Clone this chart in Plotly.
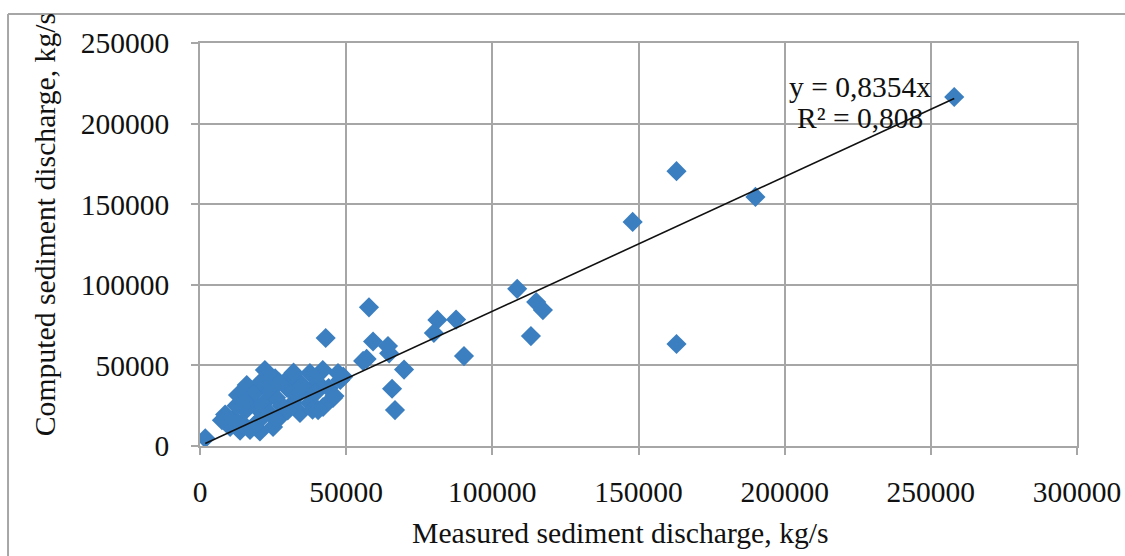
import plotly.graph_objects as go

# Measured (x) and computed (y) sediment discharge, kg/s
measured = [
    258000, 163000, 190000, 148000, 163000, 108500, 115000, 117300, 113200, 90300,
    87600, 81200, 80000, 69800, 66700, 65700, 64300, 64700, 59200, 57800,
    57000, 55800, 43000, 1800,
    22200, 25700, 16000, 13000, 8600, 7500, 10300, 13700, 17100, 20500,
    25000, 19500, 22900, 17100, 29800, 30800, 27400, 31800, 47200, 42000,
    37600, 33200, 40400, 45500, 42100, 37600, 34200, 36600, 48000,
    14500, 11500, 20000, 24000, 26000, 28000, 19000, 15500, 12500, 33000,
    35000, 39500, 44000, 38500, 30000, 23500, 27000, 46000, 49000, 21000,
    32000, 40400, 18500, 15000,
]
computed = [
    216500, 170500, 154500, 139000, 63300, 97500, 89300, 84300, 68200, 55800,
    78400, 78200, 70100, 47400, 22300, 35500, 62000, 57500, 64800, 86000,
    54000, 52800, 67000, 4800,
    47100, 42000, 37800, 31600, 19500, 16000, 11800, 9500, 10000, 9000,
    11800, 23600, 28500, 28500, 36000, 43000, 18000, 26700, 45300, 47100,
    45300, 41000, 39000, 29800, 24200, 26700, 20500, 34700, 41000,
    14000, 17000, 15500, 20000, 30000, 25000, 33500, 22000, 25000, 31000,
    37500, 33000, 36000, 22500, 22000, 35500, 39500, 31000, 43000, 40000,
    45500, 22300, 12500, 27000,
]
slope = 0.8354
equation_text = "y = 0,8354x"
r2_text = "R² = 0,808"
x_title = "Measured sediment discharge, kg/s"
y_title = "Computed sediment discharge, kg/s"

FONT = "Liberation Serif, Times New Roman, serif"
GRID = "#A6A6A6"
TXT = "#111111"

trend_x = [min(measured), max(measured)]
trend_y = [slope * v for v in trend_x]

fig = go.Figure()
fig.add_trace(go.Scatter(
    x=measured, y=computed, mode="markers",
    marker=dict(symbol="diamond", size=15.5, color="#3B7FC1", line=dict(width=0)),
    showlegend=False,
))
fig.add_trace(go.Scatter(
    x=trend_x, y=trend_y, mode="lines",
    line=dict(color="#111111", width=1.6), showlegend=False,
))

axis_common = dict(
    showgrid=True, gridcolor=GRID, gridwidth=1.5,
    showline=True, linecolor=GRID, linewidth=1.5, mirror=True,
    ticks="outside", ticklen=7, tickcolor=GRID, tickwidth=1.5,
    zeroline=False, automargin=False,
    tickfont=dict(family=FONT, size=29.5, color=TXT),
)

fig.update_layout(
    width=1125, height=556,
    margin=dict(l=200, r=48, t=43, b=110, autoexpand=False),
    paper_bgcolor="white", plot_bgcolor="white",
    xaxis=dict(range=[0, 300000], dtick=50000, tickformat="d",
               ticklabelstandoff=12, **axis_common),
    yaxis=dict(range=[0, 250000], dtick=50000, tickformat="d",
               ticklabelstandoff=16, **axis_common),
    font=dict(family=FONT, color=TXT),
)

# outer chart border (left and top visible)
fig.add_shape(type="line", xref="paper", yref="paper",
              x0=-0.2189, x1=-0.2189, y0=1.072, y1=-0.30,
              line=dict(color=GRID, width=2))
fig.add_shape(type="line", xref="paper", yref="paper",
              x0=-0.2189, x1=1.06, y0=1.072, y1=1.072,
              line=dict(color=GRID, width=2))

fig.add_annotation(text=y_title, xref="paper", yref="paper",
                   x=-0.1767, y=0.548, textangle=-90, showarrow=False,
                   xanchor="center", yanchor="middle",
                   font=dict(family=FONT, size=29.7, color=TXT))
fig.add_annotation(text=x_title, xref="paper", yref="paper",
                   x=0.479, y=-0.216, showarrow=False,
                   xanchor="center", yanchor="middle",
                   font=dict(family=FONT, size=29.7, color=TXT))

fig.add_annotation(text=equation_text, xref="paper", yref="paper",
                   x=(860 - 200) / 877, y=(446 - 87) / 403, showarrow=False,
                   xanchor="center", yanchor="middle",
                   font=dict(family=FONT, size=29.5, color=TXT))
fig.add_annotation(text=r2_text, xref="paper", yref="paper",
                   x=(860 - 200) / 877, y=(446 - 118) / 403, showarrow=False,
                   xanchor="center", yanchor="middle",
                   font=dict(family=FONT, size=29.5, color=TXT))

fig.write_html("out.html")
